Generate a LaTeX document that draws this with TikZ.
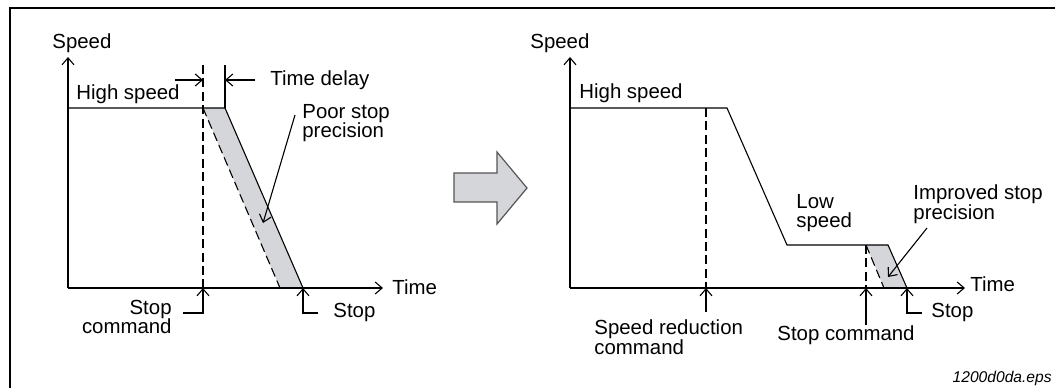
\documentclass[tikz,border=0pt]{standalone}
\usepackage{fontspec}
\setmainfont{Liberation Sans}
\usetikzlibrary{arrows.meta}
\definecolor{shadegray}{HTML}{D4D6DA}
\definecolor{bigarrowline}{HTML}{555555}
\begin{document}
\begin{tikzpicture}[x=0.5pt,y=-0.5pt,
  ln/.style={line width=0.55pt, black},
  dsh/.style={ln, dash pattern=on 4.5pt off 2.2pt},
  arr/.style={ln, -{Straight Barb[length=3.5pt,width=6pt]}},
  lbl/.style={inner sep=0pt, font=\fontsize{10.2}{9.8}\selectfont},
  shadebox/.style={fill=shadegray, draw=none}]
\useasboundingbox (0,0) rectangle (1055,387);
% frame
\draw[line width=1.3pt] (1056,8) -- (10,8) -- (10,388);

% ---------------- left chart ----------------
\coordinate (LO) at (68,288);
\coordinate (LYtop) at (68,57);
\coordinate (LXend) at (383,288);
\coordinate (LH0) at (68,108);
\coordinate (LD) at (203,108);
\coordinate (LS) at (225,108);
\coordinate (LDb) at (280,288);
\coordinate (LSb) at (303,288);
\coordinate (LDtop) at (203,65);
\coordinate (LDax) at (203,288);
\coordinate (LStop) at (225,65);
\coordinate (LTa) at (175,80);
\coordinate (LTa2) at (203,80);
\coordinate (LTb) at (255,80);
\coordinate (LTb2) at (225,80);
\coordinate (LPa) at (295,115);
\coordinate (LPb) at (263,223);
\coordinate (LSCa) at (183,313);
\coordinate (LSCb) at (203,313);
\coordinate (LSTa) at (318,313);
\coordinate (LSTb) at (303,313);

\fill[shadebox] (LD) -- (LS) -- (LSb) -- (LDb) -- cycle;
\draw[arr] (LO) -- (LYtop);
\draw[arr] (LO) -- (LXend);
\draw[ln] (LH0) -- (LS) -- (LSb);
\draw[dsh] (LD) -- (LDb);
\draw[dsh] (LDtop) -- (LDax);
\draw[ln] (LStop) -- (LS);
\draw[arr] (LTa) -- (LTa2);
\draw[arr] (LTb) -- (LTb2);
\draw[arr] (LPa) -- (LPb);
\draw[arr] (LSCa) -- (LSCb) -- (LDax);
\draw[arr] (LSTa) -- (LSTb) -- (LSb);

\node[lbl, anchor=west] (lspeed) at (52,43) {Speed};
\node[lbl, anchor=west] (lhigh) at (76,94) {High speed};
\node[lbl, anchor=west] (ldelay) at (270,80) {Time delay};
\node[lbl, anchor=west, align=left] (lpoor) at (302,123) {Poor stop\\precision};
\node[lbl, anchor=west] (ltime) at (392,287) {Time};
\node[lbl, anchor=east, align=right] (lcmd) at (172,317) {Stop\\command};
\node[lbl, anchor=west] (lstop) at (333,312) {Stop};

% ---------------- big arrow ----------------
\filldraw[fill=shadegray, draw=bigarrowline, line width=0.6pt]
  (454,173) -- (497,173) -- (497,152) -- (527,188) -- (497,224) -- (497,202) -- (454,202) -- cycle;

% ---------------- right chart ----------------
\coordinate (RO) at (570,288);
\coordinate (RYtop) at (570,57);
\coordinate (RXend) at (965,288);
\coordinate (RH0) at (570,108);
\coordinate (RH1) at (727,108);
\coordinate (RL0) at (787,245);
\coordinate (RL1) at (888,245);
\coordinate (RSb) at (907,288);
\coordinate (RDtop) at (706,108);
\coordinate (RDax) at (706,288);
\coordinate (RDlow) at (706,312);
\coordinate (RC) at (866,245);
\coordinate (RCax) at (866,288);
\coordinate (RCb) at (884,288);
\coordinate (RClow) at (866,325);
\coordinate (RSTa) at (922,313);
\coordinate (RSTb) at (907,313);
\coordinate (RPa) at (927,228);
\coordinate (RPb) at (888,277);

\fill[shadebox] (RC) -- (RL1) -- (RSb) -- (RCb) -- cycle;
\draw[arr] (RO) -- (RYtop);
\draw[arr] (RO) -- (RXend);
\draw[ln] (RH0) -- (RH1) -- (RL0) -- (RL1) -- (RSb);
\draw[dsh] (RDtop) -- (RDax);
\draw[dsh] (RC) -- (RCax);
\draw[dsh] (RC) -- (RCb);
\draw[arr] (RDlow) -- (RDax);
\draw[arr] (RClow) -- (RCax);
\draw[arr] (RSTa) -- (RSTb) -- (RSb);
\draw[arr] (RPa) -- (RPb);

\node[lbl, anchor=west] (rspeed) at (530,43) {Speed};
\node[lbl, anchor=west] (rhigh) at (579,93) {High speed};
\node[lbl, anchor=west, align=left] (rlow) at (796,213) {Low\\speed};
\node[lbl, anchor=west, align=left] (rimp) at (913,204) {Improved stop\\precision};
\node[lbl, anchor=west] (rtime) at (970,284) {Time};
\node[lbl, anchor=west] (rstop) at (931,312) {Stop};
\node[lbl, anchor=west] (rcmd) at (777,335) {Stop command};
\node[lbl, anchor=west, align=left] (rred) at (594,337) {Speed reduction\\command};
\node[inner sep=0pt, anchor=east, font=\fontsize{7.8}{9}\selectfont\itshape] (eps) at (1052,378) {1200d0da.eps};
\end{tikzpicture}
\end{document}
